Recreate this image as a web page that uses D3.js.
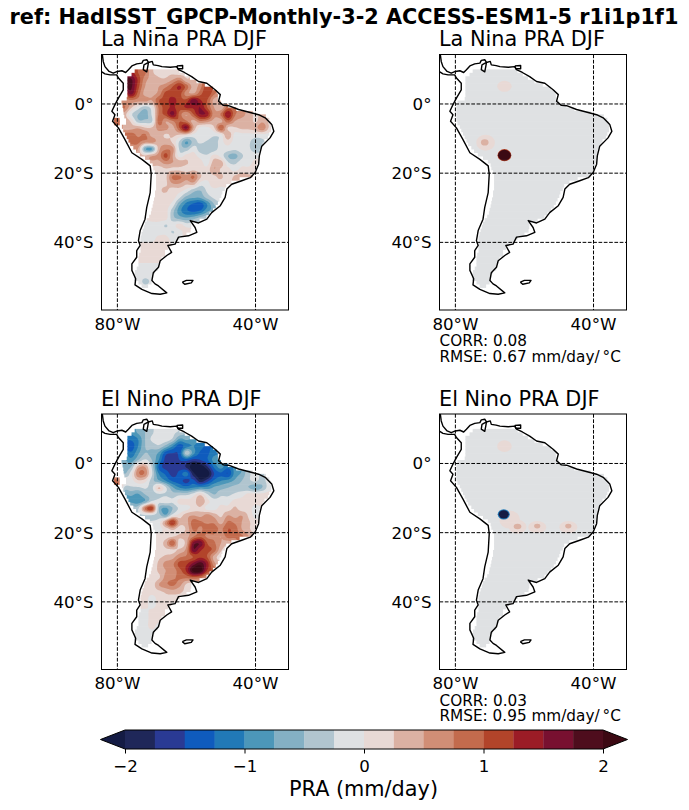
<!DOCTYPE html>
<html><head><meta charset="utf-8">
<script src="https://cdn.jsdelivr.net/npm/d3@7"></script>
<style>html,body{margin:0;padding:0;background:#fff}svg{display:block}text{font-family:"DejaVu Sans",sans-serif;fill:#000}</style>
</head><body><svg id="c" width="689" height="810"></svg>
<script>
const suptitle = "ref: HadISST_GPCP-Monthly-3-2 ACCESS-ESM1-5 r1i1p1f1";
const lonTicks = [-80, -40];
const latTicks = [0, -20, -40];
const cbarTicks = [-2, -1, 0, 1, 2];
const levels = [-2,-1.75,-1.5,-1.25,-1,-.75,-.5,-.25,0,.25,.5,.75,1,1.25,1.5,1.75,2];
const bandColors = ["#1f2759","#2a3a94","#0f5bbd","#2179b7","#4c97b9","#84b0c4","#b1c5cf","#dfe1e3","#e8d9d5","#dbb1a3","#d18e76","#c36b4d","#b2442a","#9b1c26","#781030","#4e0d1d"];
const underColor = "#141b44", overColor = "#3c0913";

// grid latitudes (north to south) and the longitude of each row's first land cell (2 deg step)
const gridLats = [9,7,5,3,1,-1,-3,-5,-7,-9,-11,-13,-15,-17,-19,-21,-23,-25,-27,-29,-31,-33,-35,-37,-39,-41,-43,-45,-47,-49,-51,-53];
const rowFirstLon = [-74,-76,-76,-76,-78,-78,-78,-80,-76,-76,-74,-74,-72,-70,-70,-68,-68,-68,-70,-70,-70,-70,-72,-72,-72,-72,-72,-72,-72,-74,-74,-72];

// reference minus model PRA, mm/day
const laNinaRows = [
[1.0,.8,.3,.2,.2,.2,.1],
[1.8,1.2,.6,.4,.3,.3,.5,.7,.3],
[1.8,1.1,.5,.3,.5,.7,1.0,1.3,.9,.4],
[1.6,.9,.4,.4,.6,1.1,1.1,1.1,.6,.5,.9,1.2],
[.6,.7,.6,.6,.5,1.0,1.1,1.4,1.1,1.1,1.7,1.3,1.0,.4],
[.8,.3,-.1,-.4,-.1,.8,1.1,1.3,1.1,1.3,1.3,1.5,1.0,.5,.3],
[.4,-.2,-.5,-.6,-.2,.8,1.1,1.6,.9,.5,1.0,1.5,1.4,.6,.8,1.5,.8],
[.9,null,.2,-.4,-.4,-.3,.9,.5,.7,1.0,.8,.4,.7,.6,.4,.4,.9,.5,.4,.4,.2],
[.4,.5,.3,.3,.6,.6,.4,1.0,1.6,.5,-.1,-.1,.2,1.0,.2,.2,.3,.3,.4,.7,.2],
[.9,.7,.8,.4,.4,.2,.3,.2,.1,-.1,-.1,-.1,-.2,-.1,.5,-.1,-.1,-.1,-.1,-.1,-.1],
[.8,.6,.6,.4,.4,.2,-.3,-.8,-.4,-.2,-.3,-.4,-.1,.1,-.1,-.1,-.2,-.4,-.3],
[.5,-.7,-.8,.4,.7,.6,-.3,-.4,-.1,-.4,-.5,-.4,-.1,-.1,-.2,-.1,-.2,-.4],
[.3,.5,.6,1.1,.5,-.1,.1,.1,-.1,-.2,.1,-.1,-.5,-.6,-.3,-.1,-.1],
[.4,.4,.6,.5,.4,.3,.1,.1,-.1,.4,.4,-.2,-.3,-.1,-.1,.1],
[.1,.1,.2,.2,.2,.1,.2,.1,.1,.5,.2,.1,-.1,.1,.1,.2],
[.2,.2,.8,.8,.6,.8,.3,.1,.2,.3,.1,.3,.4,.3],
[.2,.2,.5,.5,.3,.4,-.1,-.1,.2,.1,.2],
[.2,.3,.1,.1,-.1,-.4,-.5,-.2,-.1,-.1,-.1],
[.1,.2,.1,.1,-.2,-.6,-.7,-.7,-.4,-.2,-.1],
[.1,.1,.1,-.1,-.7,-1.1,-1.3,-1.4,-1.0,-.5],
[.1,.1,.1,-.4,-.9,-1.2,-1.3,-1.2,-.8],
[.1,.1,.1,-.4,-.6,-.7,-.6,-.4,-.3],
[-.1,-.1,-.1,-.27,-.1,.1,-.1,-.1],
[-.1,-.1,-.1,-.1,-.27,-.1,.1],
[-.1,-.1,.1,.1,-.1],
[.1,.1,.1,.1],
[.1,.1,.1],
[.1,.1,.1],
[-.1,-.1,-.1],
[-.1,-.1,-.1],
[-.15,-.3],
[-.2]];
const elNinoRows = [
[-.7,-.5,-.3,-.1,-.1,-.2,-.3],
[-1.2,-1.0,-.5,-.2,-.1,-.1,-.3,-.8,-.7],
[-1.4,-1.0,-.5,-.4,-.3,-.6,-1.0,-1.4,-1.1,-1.0],
[-1.2,-.8,-.5,-.6,-.8,-1.4,-1.5,-1.4,-.3,-.9,-1.3,-1.3],
[-.7,-.9,-.5,-.2,-.5,-1.0,-1.6,-1.6,-1.5,-1.4,-1.6,-1.5,-1.3,-.9],
[-.6,-.5,.4,.5,-.3,-1.3,-1.6,-1.6,-1.6,-1.8,-2.2,-2.2,-1.8,-1.2,-.9],
[-.5,-.1,.7,.7,-.2,-1.0,-1.3,-1.6,-1.4,-1.1,-1.9,-2.2,-2.2,-1.5,-1.3,-1.5,-.9],
[.8,null,-.1,.2,.1,-.4,-.7,-1.0,-1.3,-1.4,-1.6,-1.4,-1.9,-1.6,-1.2,-1.0,-.9,-.7,-.5,-.3,-.2],
[-.3,-.3,-.2,-.3,.3,-.2,-.7,-1.0,-1.1,-1.0,-.9,-.9,-.7,-.6,-.5,-.4,-.4,-.5,-.7,-.5,-.1],
[-.7,-.8,-.5,-.4,-.3,-.3,-.4,-.3,-.3,-.1,.2,-.2,-.5,-.3,-.3,-.2,-.1,.1,.1,.1,.1],
[-.9,-.7,-.2,-.2,-.1,-.2,.1,.1,.1,.5,.1,-.1,-.1,-.1,.1,.1,.1,.1,.1],
[-.3,.8,1.2,-.5,-.8,-.5,-.2,-.1,.1,.2,-.1,-.1,.1,.1,.3,.1,.1,-.1],
[-.3,-.3,-.4,-.7,-.1,.1,.4,.5,.4,.6,.4,.2,.5,.4,.5,.2,-.1],
[-.2,-.1,.6,1.3,.4,.4,.9,.8,.7,.7,.4,.8,.7,.5,.3,.1],
[-.1,-.1,.1,.3,.1,.3,.8,.7,.9,.9,.7,1.0,.9,.5,.3,.1],
[.1,.1,.2,.3,.4,.7,.9,.7,.7,.5,.9,.8,.8,.5],
[.1,.4,1.0,.1,.4,1.6,1.7,1.0,.8,.5,.3],
[.1,.2,.2,.3,.6,1.7,1.3,1.1,.9,.3,.1],
[.1,.2,.3,.4,.7,.8,1.0,1.2,1.0,.4,.1],
[.1,.3,.6,.7,1.1,1.2,1.6,1.9,1.4,.6],
[.1,.3,.5,.6,.9,1.3,2.1,2.1,1.2],
[.1,.2,.6,.7,.8,.8,.9,.8,.5],
[.1,.1,.5,.7,.8,.6,.2,.1],
[.1,.1,.2,.3,.4,.3,.2],
[.1,-.1,.1,.2,.1],
[.1,-.1,.1,.1],
[-.1,.1,.1],
[-.1,.1,.1],
[-.1,.1,-.1],
[-.1,-.1,-.1],
[-.1,-.1],
[-.1]];
const modelBackground = -0.1;
// model spots: [lon, lat, lon radius, lat radius, value]
const laNinaSpots = [[-65.8,5.1,2.1,1.6,.1],[-71.25,-11.2,2.7,2.3,.1],[-71.5,-11.1,1.1,.9,.35],[-65.8,-14.8,2,1.75,1.1],[-65.8,-14.8,1.85,1.55,3]];
const elNinoSpots = [[-65.8,5,2.1,1.7,.1],[-64.3,-16.2,3,2.6,.1],[-62,-18.3,2.6,2,.1],[-56.3,-18.4,2.6,1.8,.1],[-47.3,-18.4,2.6,1.8,.1],[-62,-18.2,1.1,.8,.35],[-56.3,-18.1,.9,.7,.35],[-47.3,-18.1,.9,.7,.35],[-66,-14.7,1.75,1.5,-1.1],[-66,-14.7,1.45,1.2,-2.5]];

// land mask, one span per 1-degree latitude band: [centre lat, west lon, east lon]
const landMask = [[9.5,-75,-62],[8.5,-75.9,-60.5],[7.5,-77.1,-59],[6.5,-77.1,-57.1],[5.5,-77.1,-54.7],[4.5,-77.1,-52.3],[3.5,-77.1,-51.2],[2.5,-77.1,-50.9],[1.5,-77.3,-50.9],[.5,-79.4,-50],[-.5,-79.7,-48],[-1.5,-79.7,-45.6],[-2.5,-79.7,-40.8],[-3.5,-79.7,-37],[-4.5,-79.7,-36],[-5.5,-79.4,-35.5],[-6.5,-78.7,-35.5],[-7.5,-78.3,-35.5],[-8.5,-77.8,-36],[-9.5,-77.3,-36.4],[-10.5,-76.8,-37.4],[-11.5,-76.3,-37.9],[-12.5,-75.4,-38.4],[-13.5,-74.6,-38.8],[-14.5,-73.5,-38.8],[-15.5,-72,-39],[-16.5,-70.6,-39.3],[-17.5,-69.8,-39.6],[-18.5,-69.6,-39.8],[-19.5,-69.1,-40],[-20.5,-68.8,-40.8],[-21.5,-68.8,-44.6],[-22.5,-68.8,-47],[-23.5,-68.8,-48.5],[-24.5,-68.8,-48.9],[-25.5,-69.1,-49.6],[-26.5,-69.1,-49.9],[-27.5,-69.4,-50.4],[-28.5,-69.6,-50.9],[-29.5,-69.8,-51.5],[-30.5,-70.1,-52.3],[-31.5,-70.3,-53.3],[-32.5,-70.8,-54.2],[-33.5,-71.5,-56.2],[-34.5,-72,-58.6],[-35.5,-72.3,-58.6],[-36.5,-72.7,-58.8],[-37.5,-73,-60],[-38.5,-73.3,-61.9],[-39.5,-73.3,-62.9],[-40.5,-73.3,-64.3],[-41.5,-73.3,-65.3],[-42.5,-73.3,-66.2],[-43.5,-73.7,-66.2],[-44.5,-73.9,-67.2],[-45.5,-73.9,-67.7],[-46.5,-73.9,-68.2],[-47.5,-74.4,-68.2],[-48.5,-74.9,-69.1],[-49.5,-75.2,-69.6],[-50.5,-75.2,-69.8],[-51.5,-73.9,-70.1],[-52.5,-73,-71.1]];
// observation mask differs on the Ecuador coast
const obsMaskEdits = [[.5,-78.8,-50],[-.5,-78.5,-48],[-1.5,-78.3,-45.6],[-2.5,-78.2,-40.8],[-3.5,-78,-37],[-4.5,-77.5,-36],[-5.5,-77.5,-35.5],[-4.5,-81,-79.3],[-5.5,-81,-79.3]];

const panels = [
 {title:"La Nina PRA DJF", x:101.5, y:54.5, rows:laNinaRows},
 {title:"La Nina PRA DJF", x:439.5, y:54.5, spots:laNinaSpots, corr:"0.08", rmse:"0.67"},
 {title:"El Nino PRA DJF", x:101.5, y:414, rows:elNinoRows},
 {title:"El Nino PRA DJF", x:439.5, y:414, spots:elNinoSpots, corr:"0.03", rmse:"0.95"}];

const coastMain = [[-84.4,14.6],[-84.1,12.3],[-83.6,10.8],[-82.4,9.4],[-81.2,8.9],[-80,9.4],[-78.7,9.6],[-77.6,9.1],[-76.8,9.9],[-75.8,11],[-74.4,11.6],[-72.9,11.8],[-72.5,12.6],[-71.5,12.8],[-71,12],[-72.3,11.3],[-72.5,9.9],[-71.5,9.3],[-71.2,10.8],[-71,12],[-69.9,12.3],[-69.6,11.3],[-68.2,11.1],[-67.1,10.8],[-64.7,10.6],[-62.8,10.8],[-62.3,9.9],[-60.6,9.1],[-58.5,7.9],[-56.5,6.5],[-54.1,6],[-51.7,4.1],[-50.2,2.7],[-50.7,.8],[-49.3,-.4],[-47.8,-.5],[-44.9,-1.6],[-41,-2.6],[-39.1,-3.1],[-37.2,-4],[-35.3,-5.9],[-34.7,-7.9],[-35.8,-9.8],[-38.2,-12.2],[-38.9,-15],[-39.1,-17.4],[-40.1,-19.8],[-41.5,-21.3],[-44,-22.2],[-46.9,-23.2],[-48.3,-24.6],[-48.8,-27],[-50.2,-29.4],[-52.7,-31.4],[-54.1,-33.3],[-56.5,-34.4],[-58.9,-33.7],[-57.5,-35.7],[-57,-37.1],[-59.4,-38.1],[-62.3,-38.5],[-63.3,-40.5],[-65.4,-40.9],[-64.3,-42.9],[-65.7,-43.8],[-67.6,-45.3],[-68.1,-47.2],[-69.6,-48.8],[-70,-51],[-69.1,-52],[-68.1,-52.6],[-65.7,-54.6],[-67.6,-55],[-70,-54.8],[-72.9,-53.6],[-74.9,-52.3],[-74.7,-50.5],[-75.8,-48.1],[-75.8,-46.2],[-74.4,-44.3],[-74.4,-42.4],[-73.4,-40.9],[-73.9,-39.5],[-73.4,-36.6],[-72,-33.3],[-71.5,-29.9],[-70.5,-25.6],[-70.2,-20.3],[-70.5,-17.9],[-72.9,-16],[-75.8,-14.1],[-77.8,-10.3],[-79.7,-6.9],[-81.4,-5],[-80.7,-3.1],[-81.6,-2.1],[-80.7,-.2],[-79.7,1.7],[-78.3,4.1],[-78.3,6],[-79.7,7.5],[-80.2,8.4],[-82.1,8.4],[-83.6,8.7],[-85.2,9.7]];
const coastTrinidad = [[-62.8,11],[-61.1,11.1],[-61.1,10.2],[-62.5,10.2],[-62.8,11]];
const coastFalklands = [[-61.2,-51.5],[-60,-51],[-58.1,-51],[-58.6,-51.7],[-60.5,-52.1],[-61.2,-51.5]];

const svg = d3.select("#c");
const W = 187, H = 255.5;
const x = d3.scaleLinear().domain([-84.6,-30.45]).range([0,W]);
const y = d3.scaleLinear().domain([14.3,-59.55]).range([0,H]);
const color = d3.scaleThreshold().domain(levels).range([underColor,...bandColors,overColor]);
const fs = 16.67, titleFs = 20.8, noteFs = 15.28;

svg.append("text").attr("x",344).attr("y",24).attr("text-anchor","middle").style("font-weight","bold").style("font-size",titleFs+"px").text(suptitle);

// coarse grid: col i -> lon, row j -> lat
const lon0 = -84, lat0 = 13, step = 2, nx = 28, ny = 36, up = 4;
function gridOf(rows){
  const v = new Array(nx*ny).fill(NaN);
  gridLats.forEach((lat,r)=>{
    const j = Math.round((lat0-lat)/step);
    rows[r].forEach((d,k)=>{ if(d===null) return;
      v[Math.round((rowFirstLon[r]-lon0)/step)+k+j*nx] = d;
    });
  });
  // carry the nearest land value outward so the contours reach the mask edge
  for(let pass=0;pass<40;pass++){
    const w = v.slice(); let missing=false;
    for(let j=0;j<ny;j++)for(let i=0;i<nx;i++) if(isNaN(v[i+j*nx])){
      const n=[[1,0],[-1,0],[0,1],[0,-1]].map(([a,b])=>(i+a>=0&&i+a<nx&&j+b>=0&&j+b<ny)?v[i+a+(j+b)*nx]:NaN).filter(q=>!isNaN(q));
      if(n.length) w[i+j*nx]=d3.mean(n); else missing=true;
    }
    v.splice(0,v.length,...w); if(!missing) break;
  }
  return v;
}
function catmull(p0,p1,p2,p3,t){return p1+.5*t*(p2-p0+t*(2*p0-5*p1+4*p2-p3+t*(3*(p1-p2)+p3-p0)));}
function refine(v){
  const fx=nx*up, fy=ny*up, out=new Array(fx*fy);
  const at=(i,j)=>v[Math.max(0,Math.min(nx-1,i))+Math.max(0,Math.min(ny-1,j))*nx];
  for(let J=0;J<fy;J++){const yy=(J+.5)/up-.5, j=Math.floor(yy), ty=yy-j;
    for(let I=0;I<fx;I++){const xx=(I+.5)/up-.5, i=Math.floor(xx), tx=xx-i;
      const c=[-1,0,1,2].map(b=>catmull(at(i-1,j+b),at(i,j+b),at(i+1,j+b),at(i+2,j+b),tx));
      out[I+J*fx]=catmull(c[0],c[1],c[2],c[3],ty);
    }}
  return {out,fx,fy};
}
function spansOf(isObs){
  if(!isObs) return landMask;
  const edited=new Set(obsMaskEdits.map(d=>d[0]));
  return landMask.filter(d=>!edited.has(d[0])).concat(obsMaskEdits);
}
panels.forEach((p,pi)=>{
  const g = svg.append("g").attr("transform",`translate(${p.x},${p.y})`);
  const id = "clip"+pi, maskId="mask"+pi;
  g.append("clipPath").attr("id",id).append("rect").attr("width",W).attr("height",H);
  g.append("clipPath").attr("id",maskId).selectAll("rect").data(spansOf(!!p.rows)).join("rect")
    .attr("x",d=>x(d[1])).attr("width",d=>x(d[2])-x(d[1]))
    .attr("y",d=>y(d[0]+.5)).attr("height",d=>y(d[0]-.5)-y(d[0]+.5)+.6);
  const m = g.append("g").attr("clip-path",`url(#${id})`);
  const land = m.append("g").attr("clip-path",`url(#${maskId})`);
  const base = land.append("g");
  if(p.rows){
    const {out,fx,fy} = refine(gridOf(p.rows));
    const geo = d3.geoPath(d3.geoTransform({point(a,b){ this.stream.point(x(lon0+(a/up-.5)*step), y(lat0-(b/up-.5)*step)); }}));
    const cont = d3.contours().size([fx,fy]).smooth(true);
    base.selectAll("path").data([-1e6,...levels]).join("path")
      .attr("d",t=>geo(cont.contour(out,t)))
      .attr("fill",t=>t===-1e6?underColor:color(t));
  } else {
    base.append("rect").attr("width",W).attr("height",H).attr("fill",color(modelBackground));
    base.selectAll("ellipse").data(p.spots).join("ellipse")
      .attr("cx",d=>x(d[0])).attr("cy",d=>y(d[1]))
      .attr("rx",d=>x(d[0]+d[2])-x(d[0])).attr("ry",d=>y(d[1]-d[3])-y(d[1]))
      .attr("fill",d=>color(d[4]));
  }
  const line = d3.line().x(d=>x(d[0])).y(d=>y(d[1]));
  m.selectAll("path.coast").data([coastMain,coastTrinidad,coastFalklands]).join("path").attr("class","coast")
    .attr("d",line).attr("fill","none").attr("stroke","#000").attr("stroke-width",1.4).attr("stroke-linejoin","round");
  const grid = m.append("g").attr("stroke","#000").attr("stroke-width",1).attr("stroke-dasharray","3.7,1.6");
  grid.selectAll("line.gx").data(lonTicks).join("line").attr("class","gx")
    .attr("x1",d=>x(d)).attr("x2",d=>x(d)).attr("y1",0).attr("y2",H);
  grid.selectAll("line.gy").data(latTicks).join("line").attr("class","gy")
    .attr("y1",d=>y(d)).attr("y2",d=>y(d)).attr("x1",0).attr("x2",W);
  g.append("rect").attr("width",W).attr("height",H).attr("fill","none").attr("stroke","#000").attr("stroke-width",1);
  g.append("text").attr("x",-.5).attr("y",-8.5).style("font-size",titleFs+"px").text(p.title);
  g.selectAll("text.lx").data(lonTicks).join("text").attr("class","lx").attr("x",d=>x(d)).attr("y",H+19.5)
    .attr("text-anchor","middle").style("font-size",fs+"px").text(d=>Math.abs(d)+"°W");
  g.selectAll("text.ly").data(latTicks).join("text").attr("class","ly").attr("x",-8).attr("y",d=>y(d)+6)
    .attr("text-anchor","end").style("font-size",fs+"px").text(d=>d===0?"0°":Math.abs(d)+"°S");
  if(p.corr){
    g.append("text").attr("x",0).attr("y",H+36).style("font-size",noteFs+"px").text("CORR: "+p.corr);
    g.append("text").attr("x",0).attr("y",H+51.5).style("font-size",noteFs+"px").text("RMSE: "+p.rmse+" mm/day/\u2009°C");
  }
});

// colorbar
const cx = d3.scaleLinear().domain([-2,2]).range([125,603]);
const cy0 = 730, cy1 = 749, ext = 24.5;
const bar = svg.append("g");
bar.selectAll("rect").data(bandColors).join("rect")
  .attr("x",(d,i)=>cx(levels[i])).attr("width",(d,i)=>cx(levels[i+1])-cx(levels[i])+.3)
  .attr("y",cy0).attr("height",cy1-cy0).attr("fill",d=>d);
const tri = (v,dir)=>d3.line()([[cx(v),cy0],[cx(v)+dir*ext,(cy0+cy1)/2],[cx(v),cy1]])+"Z";
bar.append("path").attr("d",tri(-2,-1)).attr("fill",underColor);
bar.append("path").attr("d",tri(2,1)).attr("fill",overColor);
bar.append("path").attr("d",d3.line()([[cx(-2),cy0],[cx(-2)-ext,(cy0+cy1)/2],[cx(-2),cy1],[cx(2),cy1],[cx(2)+ext,(cy0+cy1)/2],[cx(2),cy0]])+"Z")
  .attr("fill","none").attr("stroke","#000").attr("stroke-width",1);
const ax = svg.append("g").attr("transform",`translate(0,${cy1})`)
  .call(d3.axisBottom(cx).tickValues(cbarTicks).tickSize(4.5).tickPadding(6.5).tickFormat(d=>d<0?"−"+(-d):d));
ax.select(".domain").remove();
ax.selectAll("text").style("font-size",fs+"px").style("font-family","'DejaVu Sans'");
svg.append("text").attr("x",363.5).attr("y",796).attr("text-anchor","middle").style("font-size",titleFs+"px").text("PRA (mm/day)");
</script></body></html>
